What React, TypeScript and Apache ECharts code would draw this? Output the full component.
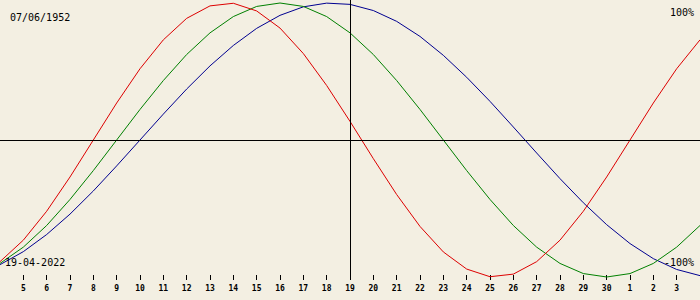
import React, { useEffect, useRef } from "react";
import * as echarts from "echarts";

const days = [4, 5, 6, 7, 8, 9, 10, 11, 12, 13, 14, 15, 16, 17, 18, 19, 20, 21, 22, 23, 24, 25, 26, 27, 28, 29, 30, 31, 32, 33, 34];
const tickDays = [5, 6, 7, 8, 9, 10, 11, 12, 13, 14, 15, 16, 17, 18, 19, 20, 21, 22, 23, 24, 25, 26, 27, 28, 29, 30, 31, 32, 33];
const physical = [-88.8, -73.1, -52.0, -27.0, 0, 27.0, 52.0, 73.1, 88.8, 97.9, 99.8, 94.2, 81.7, 63.1, 39.8, 13.6, -13.6, -39.8, -63.1, -81.7, -94.2, -99.8, -97.9, -88.8, -73.1, -52.0, -27.0, 0, 27.0, 52.0, 73.1];
const emotional = [-90.1, -78.2, -62.4, -43.4, -22.3, 0, 22.3, 43.4, 62.4, 78.2, 90.1, 97.5, 100, 97.5, 90.1, 78.2, 62.4, 43.4, 22.3, 0, -22.3, -43.4, -62.4, -78.2, -90.1, -97.5, -100, -97.5, -90.1, -78.2, -62.4];
const intellectual = [-91.0, -81.5, -69.0, -54.1, -37.2, -18.9, 0, 18.9, 37.2, 54.1, 69.0, 81.5, 91.0, 97.2, 99.9, 99.0, 94.5, 86.6, 75.6, 61.8, 45.8, 28.2, 9.5, -9.5, -28.2, -45.8, -61.8, -75.6, -86.6, -94.5, -99.0];
const currentDay = 19;
const monthDays = 30;
const birthLabel = "07/06/1952";
const dateLabel = "19-04-2022";
const topLabel = "100%";
const bottomLabel = "-100%";

export default function App() {
  const ref = useRef<HTMLDivElement>(null);
  useEffect(() => {
    if (!ref.current) return;
    const chart = echarts.init(ref.current, undefined, { renderer: "svg" });
    const mono = "'DejaVu Sans Mono', monospace";
    const pair = (arr: number[]) => days.map((d, i) => [d, arr[i]]);
    const line = (data: number[], color: string, extra: any = {}) => ({
      type: "line",
      data: pair(data),
      symbol: "none",
      showSymbol: false,
      lineStyle: { color, width: 1 },
      itemStyle: { color },
      ...extra,
    });
    const txt = (text: string, x: number, y: number, align: string) => ({
      type: "text",
      x,
      y,
      silent: true,
      z: 100,
      style: {
        text,
        font: `10px ${mono}`,
        fill: "#000",
        align,
        verticalAlign: "middle",
        textAlign: align,
        textVerticalAlign: "middle",
      },
    });
    chart.setOption({
      animation: false,
      backgroundColor: "#f3efe2",
      grid: { left: 0, right: 0, top: 0, height: 280, containLabel: false },
      xAxis: {
        type: "value",
        min: 4,
        max: 34,
        interval: 1,
        axisLine: { show: false, onZero: false },
        splitLine: { show: false },
        axisTick: {
          show: true,
          inside: true,
          length: 5,
          lineStyle: { color: "#000", width: 1 },
          customValues: tickDays,
        },
        axisLabel: {
          show: true,
          margin: 4,
          color: "#000",
          fontSize: 8,
          fontWeight: "bold",
          fontFamily: mono,
          customValues: tickDays,
          formatter: (v: number) => String(v > monthDays ? v - monthDays : v),
        },
      },
      yAxis: {
        type: "value",
        show: false,
        min: -102.19,
        max: 102.19,
        splitLine: { show: false },
      },
      series: [
        line(intellectual, "#000090", {
          markLine: {
            silent: true,
            symbol: "none",
            label: { show: false },
            lineStyle: { color: "#000", width: 1, type: "solid" },
            data: [{ yAxis: 0 }, { xAxis: currentDay }],
          },
        }),
        line(emotional, "#008000"),
        line(physical, "#dd0000"),
      ],
      graphic: [
        txt(birthLabel, 10, 17, "left"),
        txt(topLabel, 694, 12.5, "right"),
        txt(dateLabel, 5, 262, "left"),
        txt(bottomLabel, 694, 262.5, "right"),
      ],
    });
    return () => chart.dispose();
  }, []);
  return (
    <div
      ref={ref}
      style={{ position: "fixed", left: 0, top: 0, width: 700, height: 300 }}
    />
  );
}
